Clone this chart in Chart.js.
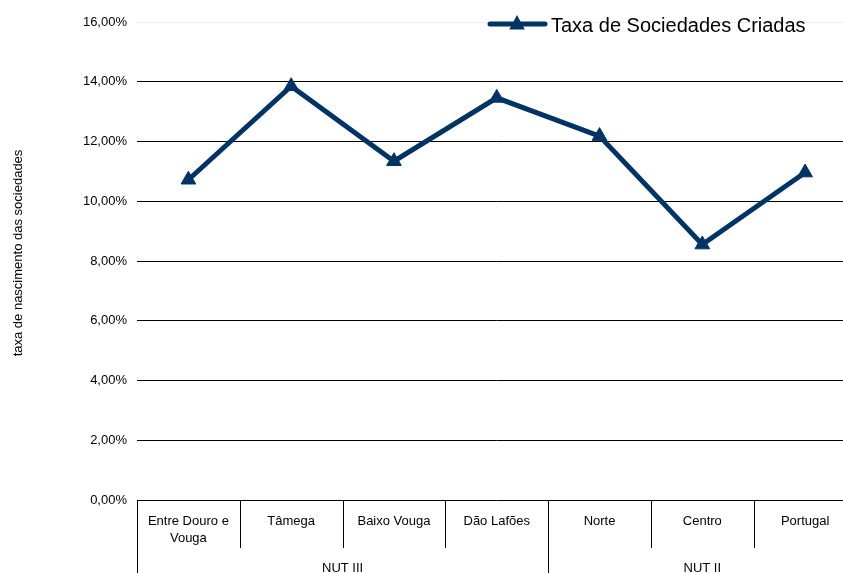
<!DOCTYPE html>
<html>
<head>
<meta charset="utf-8">
<script src="https://cdn.jsdelivr.net/npm/chart.js@4/dist/chart.umd.min.js"></script>
<style>
html,body{margin:0;padding:0;background:#fff;overflow:hidden;width:843px;height:573px;}
#wrap{position:absolute;left:0;top:0;width:866px;height:573px;}
</style>
</head>
<body>
<div id="wrap"><canvas id="c" width="866" height="573"></canvas></div>
<script>
const categories = [["Entre Douro e","Vouga"],"Tâmega","Baixo Vouga","Dão Lafões","Norte","Centro","Portugal"];
const seriesName = "Taxa de Sociedades Criadas";
const values = [10.72, 13.85, 11.34, 13.46, 12.18, 8.55, 10.96];
const groupLabels = ["NUT III","NUT II"];
const groupStart = [0, 4];
const groupEnd = [3, 6];
const yMin = 0, yMax = 16, yStep = 2;
const yTitle = "taxa de nascimento das sociedades";

const FONT = "'Liberation Sans', Arial, sans-serif";
const NAVY = "#003366";

const extras = {
  id: "extras",
  afterDraw(chart) {
    const ctx = chart.ctx;
    const x = chart.scales.x;
    const area = chart.chartArea;
    const half = (x.getPixelForValue(1) - x.getPixelForValue(0)) / 2;
    const y0 = area.bottom;
    ctx.save();
    // category separators
    ctx.strokeStyle = "#000";
    ctx.lineWidth = 1;
    const groupBounds = new Set();
    groupStart.forEach(s => groupBounds.add(s));
    groupEnd.forEach(e => groupBounds.add(e + 1));
    for (let i = 0; i <= categories.length; i++) {
      const px = Math.round(x.getPixelForValue(i) - half) + 0.5;
      const full = groupBounds.has(i);
      ctx.beginPath();
      ctx.moveTo(px, y0);
      ctx.lineTo(px, full ? chart.height : y0 + 48);
      ctx.stroke();
    }
    // category labels
    ctx.fillStyle = "#000";
    ctx.font = "13px " + FONT;
    ctx.textAlign = "center";
    ctx.textBaseline = "middle";
    categories.forEach((c, i) => {
      const cx = x.getPixelForValue(i);
      const lines = Array.isArray(c) ? c : [c];
      lines.forEach((l, j) => ctx.fillText(l, cx, y0 + 21 + j * 17.5));
    });
    // group labels
    groupLabels.forEach((g, k) => {
      const a = x.getPixelForValue(groupStart[k]) - half;
      const b = x.getPixelForValue(groupEnd[k]) + half;
      ctx.fillText(g, (a + b) / 2, y0 + 68);
    });
    // y title
    ctx.save();
    ctx.translate(18, (area.top + area.bottom) / 2 - 8);
    ctx.rotate(-Math.PI / 2);
    ctx.fillText(yTitle, 0, 0);
    ctx.restore();
    // legend
    ctx.strokeStyle = NAVY;
    ctx.lineWidth = 5;
    ctx.lineCap = "round";
    ctx.beginPath();
    ctx.moveTo(490, 24);
    ctx.lineTo(545, 24);
    ctx.stroke();
    ctx.fillStyle = NAVY;
    ctx.beginPath();
    const r = 9;
    ctx.moveTo(517, 24 - r);
    ctx.lineTo(517 + r * 0.866, 24 + r * 0.5 + 1);
    ctx.lineTo(517 - r * 0.866, 24 + r * 0.5 + 1);
    ctx.closePath();
    ctx.fill();
    ctx.fillStyle = "#000";
    ctx.font = "20px " + FONT;
    ctx.textAlign = "left";
    ctx.fillText(seriesName, 551, 26);
    ctx.restore();
  }
};

new Chart(document.getElementById("c"), {
  type: "line",
  data: {
    labels: categories,
    datasets: [{
      label: seriesName,
      data: values,
      borderColor: NAVY,
      backgroundColor: NAVY,
      borderWidth: 5,
      pointStyle: "triangle",
      pointRadius: 8.5,
      pointBorderWidth: 1,
      pointBackgroundColor: NAVY,
      pointBorderColor: NAVY,
      tension: 0,
      fill: false
    }]
  },
  options: {
    responsive: false,
    animation: false,
    devicePixelRatio: 1,
    layout: { padding: { top: 22, right: 4, bottom: 73, left: 0 } },
    plugins: { legend: { display: false }, tooltip: { enabled: false } },
    scales: {
      x: {
        offset: true,
        grid: { display: false, drawTicks: false },
        border: { display: false },
        ticks: { display: false }
      },
      y: {
        min: yMin, max: yMax,
        afterFit(s) { s.width = 137; },
        border: { display: false },
        grid: {
          drawTicks: false,
          color: ctx => ctx.tick && ctx.tick.value === yMax ? "#ececec" : "#000",
          lineWidth: 1
        },
        ticks: {
          stepSize: yStep,
          padding: 10,
          color: "#000",
          font: { family: FONT, size: 13 },
          callback: v => v.toFixed(2).replace(".", ",") + "%"
        }
      }
    }
  },
  plugins: [extras]
});
</script>
</body>
</html>
